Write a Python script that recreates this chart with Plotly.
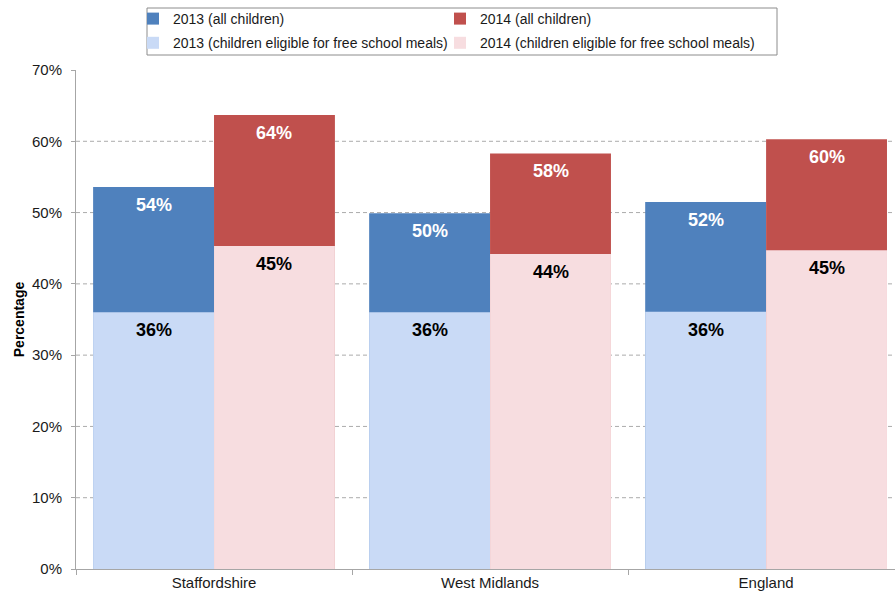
import plotly.graph_objects as go

# Share of children reaching the expected level, by area
areas = ["Staffordshire", "West Midlands", "England"]
all_2013 = [53.6, 49.9, 51.5]
all_2014 = [63.7, 58.3, 60.3]
fsm_2013 = [36.0, 36.0, 36.1]
fsm_2014 = [45.3, 44.2, 44.7]

y_ticks = [0, 10, 20, 30, 40, 50, 60, 70]
y_tick_text = [f"{t}%" for t in y_ticks]

BLUE = "#4F81BD"
RED = "#C0504D"
LIGHT_BLUE = "#C9DAF6"
LIGHT_RED = "#F7DDE0"
FONT = "Liberation Sans, Arial, sans-serif"

bar_w = 0.438

# plot area in pixels, used to place the legend boxes
PLOT_L, PLOT_R, PLOT_T, PLOT_B = 76, 895, 70, 569


def px_x(x):
    return (x - PLOT_L) / (PLOT_R - PLOT_L)


def px_y(y):
    return (PLOT_B - y) / (PLOT_B - PLOT_T)


fig = go.Figure()


def add_bar(name, values, color, offset, text_color, legend):
    fig.add_trace(go.Bar(
        x=areas, y=values, name=name, legend=legend, legendgroup=name,
        marker=dict(color=color, line=dict(width=0)),
        width=bar_w, offset=offset,
        hoverinfo="skip",
    ))
    # value label just under the top of each bar
    for i, v in enumerate(values):
        fig.add_annotation(
            x=i + offset + bar_w / 2, y=v, xref="x", yref="y",
            text=f"<b>{v:.0f}%</b>", showarrow=False,
            yanchor="top", yshift=-6,
            font=dict(family=FONT, size=18, color=text_color),
        )


add_bar("2013 (all children)", all_2013, BLUE, -bar_w, "white", "legend")
add_bar("2014 (all children)", all_2014, RED, 0, "white", "legend2")
add_bar("2013 (children eligible for free school meals)", fsm_2013, LIGHT_BLUE, -bar_w, "black", "legend")
add_bar("2014 (children eligible for free school meals)", fsm_2014, LIGHT_RED, 0, "black", "legend2")

# dashed horizontal gridlines (none at the top of the axis)
for t in y_ticks[1:-1]:
    fig.add_shape(type="line", xref="paper", yref="y", x0=0, x1=1, y0=t, y1=t,
                  line=dict(color="#ABABAB", width=1, dash="4px,3px"), layer="below")

# frame around the two legend columns
fig.add_shape(type="rect", xref="paper", yref="paper",
              x0=px_x(147), x1=px_x(777), y0=px_y(55), y1=px_y(8),
              line=dict(color="#8C8C8C", width=1), fillcolor="rgba(0,0,0,0)",
              layer="above")

legend_common = dict(
    orientation="v", xanchor="left", yanchor="top",
    bgcolor="rgba(0,0,0,0)", borderwidth=0,
    font=dict(family=FONT, size=14, color="#1a1a1a"),
    tracegroupgap=3, traceorder="grouped", itemclick=False,
)

fig.update_layout(
    width=895, height=595,
    margin=dict(l=PLOT_L, r=0, t=PLOT_T, b=595 - PLOT_B),
    paper_bgcolor="white", plot_bgcolor="white",
    barmode="overlay",
    font=dict(family=FONT, size=15, color="#1a1a1a"),
    showlegend=True,
    legend=dict(x=px_x(133), y=px_y(3), **legend_common),
    legend2=dict(x=px_x(440), y=px_y(3), **legend_common),
    xaxis=dict(
        range=[-0.5, 2.467], showgrid=False,
        showline=True, linecolor="#A6A6A6", linewidth=1,
        ticks="outside", tickson="boundaries", ticklen=5, tickcolor="#A6A6A6",
        tickfont=dict(family=FONT, size=15, color="#1a1a1a"),
    ),
    yaxis=dict(
        range=[0, 70], tickmode="array", tickvals=y_ticks, ticktext=y_tick_text,
        showgrid=False, zeroline=False,
        showline=True, linecolor="#A6A6A6", linewidth=1,
        ticks="outside", ticklen=4, tickcolor="#A6A6A6", ticklabelstandoff=6,
        tickfont=dict(family=FONT, size=15, color="#1a1a1a"),
        title=dict(text="<b>Percentage</b>", standoff=4,
                   font=dict(family=FONT, size=14, color="black")),
    ),
)

fig.write_html("out.html")
